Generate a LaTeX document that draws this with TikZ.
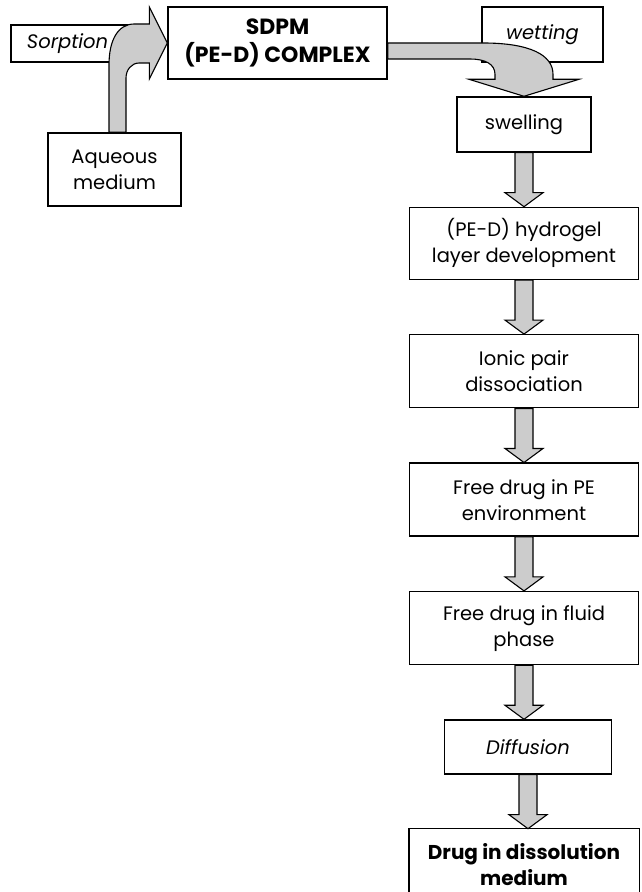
\documentclass[tikz,border=0pt]{standalone}
\usepackage{fontspec}
\setmainfont{Poppins}
\usetikzlibrary{positioning,calc}

\begin{document}
\begin{tikzpicture}[x=1pt,y=1pt]
\tikzstyle{stage}=[
	draw,
	line width=1.4pt,
	align=center,
	inner sep=2pt,
	font=\fontsize{19.5}{26}\selectfont ]
\tikzstyle{blockarr}=[draw, fill=black!20, line width=1.1pt, line join=miter]
\useasboundingbox (0,0) rectangle (641,892);
\clip (0,0) rectangle (641,892);
% top row
\node[stage, minimum width=127pt, minimum height=37pt, text width=95pt, inner xsep=16pt, align=left] (sorption) at (74.5,848.5) {\itshape Sorption};
\node[stage, minimum width=219pt, minimum height=72pt, font=\fontsize{22}{28}\selectfont\bfseries] (sdpm) at (277.5,849) {SDPM\\(PE-D) COMPLEX};
\node[stage, minimum width=121pt, minimum height=55pt] (wetting) at (542.5,857.5) {\itshape wetting};
\node[stage, minimum width=133pt, minimum height=73pt] (aqueous) at (114.5,722.5) {Aqueous\\medium};
\node[stage, minimum width=134pt, minimum height=55pt] (swelling) at (524,767.5) {swelling};
% release chain
\node[stage, minimum width=229pt, minimum height=72pt, below=54pt of swelling] (hydrogel) {(PE-D) hydrogel\\layer development};
\node[stage, minimum width=229pt, minimum height=73pt, below=54pt of hydrogel] (ionic) {Ionic pair\\dissociation};
\node[stage, minimum width=229pt, minimum height=73pt, below=54pt of ionic] (freepe) {Free drug in PE\\environment};
\node[stage, minimum width=229pt, minimum height=73pt, below=54pt of freepe] (freefluid) {Free drug in fluid\\phase};
\node[stage, minimum width=167pt, minimum height=54pt, below=54pt of freefluid, xshift=4pt] (diffusion) {\itshape Diffusion};
\node[stage, draw=none, minimum width=229pt, minimum height=70pt, below=54pt of diffusion, xshift=-4pt, font=\fontsize{20}{26}\selectfont\bfseries] (drug) {Drug in dissolution\\medium};
% last box runs off the bottom edge
\draw[line width=1.4pt] ([yshift=-2pt]drug.south west) -- (drug.north west) -- (drug.north east) -- ([yshift=-2pt]drug.south east);
% curved arrows
\path[blockarr] let \p1=(aqueous.north), \p2=(sdpm.west) in
	(\x1-5.5pt,\y1) -- (\x1-5.5pt,\y2-22pt)
	.. controls (\x1-5.5pt,\y2+3pt) and (\x1+3.5pt,\y2+19pt) .. (\x2-33pt,\y2+19pt)
	-- (\x2-18pt,\y2+19pt) -- (\x2-18pt,\y2+36pt) -- (\x2,\y2)
	-- (\x2-18pt,\y2-36pt) -- (\x2-18pt,\y2-20pt) -- (\x2-28pt,\y2-20pt)
	.. controls (\x2-36pt,\y2-20pt) and (\x1+11.5pt,\y2-27pt) .. (\x1+11.5pt,\y2-35pt)
	-- (\x1+11.5pt,\y1) -- cycle;
\path[blockarr] let \p1=(sdpm.east), \p2=(swelling.north) in
	(\x1,\y1) -- (\x2-41pt,\y1)
	.. controls (\x2+6pt,\y1) and (\x2+29pt,\y1-12pt) .. (\x2+29pt,\y2+22pt)
	-- (\x2+29pt,\y2+17pt) -- (\x2+55pt,\y2+17pt) -- (\x2,\y2)
	-- (\x2-55pt,\y2+17pt) -- (\x2-29pt,\y2+17pt) -- (\x2-29pt,\y2+22pt)
	.. controls (\x2-29pt,\y1-21pt) and (\x2-39pt,\y1-16pt) .. (\x2-54pt,\y1-16pt)
	-- (\x1,\y1-16pt) -- cycle;
% straight arrows
\foreach \a/\b in {swelling/hydrogel, hydrogel/ionic, ionic/freepe, freepe/freefluid, freefluid/diffusion, diffusion/drug}
	\path[blockarr] let \p1=(\a.south), \p2=(\b.north) in
	(\x1-9pt,\y1) -- (\x1+9pt,\y1) -- (\x1+9pt,\y2+14pt) -- (\x1+19pt,\y2+14pt)
	-- (\x1,\y2) -- (\x1-19pt,\y2+14pt) -- (\x1-9pt,\y2+14pt) -- cycle;
\end{tikzpicture}
\end{document}
